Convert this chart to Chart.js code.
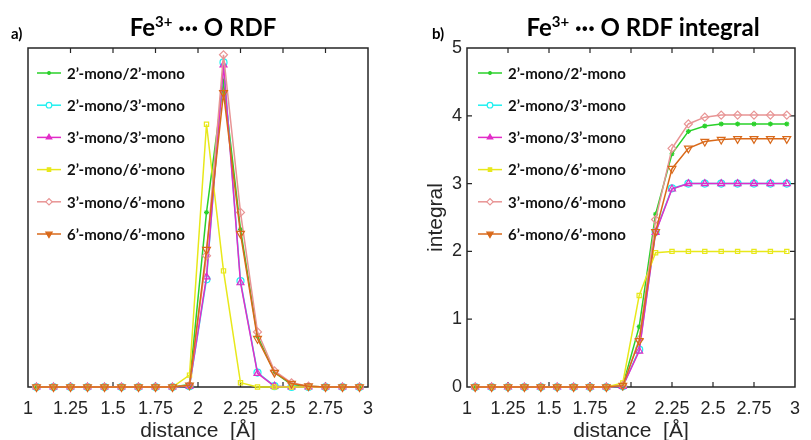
<!DOCTYPE html>
<html>
<head>
<meta charset="utf-8">
<script src="https://cdn.jsdelivr.net/npm/chart.js@4/dist/chart.umd.min.js"></script>
<style>
html, body { margin: 0; padding: 0; background: #fff; }
#wrap { position: relative; width: 811px; height: 440px; overflow: hidden; }
canvas { position: absolute; top: 0; }
#rdf { left: 0; }
#integ { left: 405px; }
</style>
</head>
<body>
<div id="wrap">
  <canvas id="rdf" width="405" height="450"></canvas>
  <canvas id="integ" width="406" height="450"></canvas>
</div>
<script>
// distances (bin centres, Å)
const distance = [1.05, 1.15, 1.25, 1.35, 1.45, 1.55, 1.65, 1.75, 1.85, 1.95,
                  2.05, 2.15, 2.25, 2.35, 2.45, 2.55, 2.65, 2.75, 2.85, 2.95];
const xTicks = [1, 1.25, 1.5, 1.75, 2, 2.25, 2.5, 2.75, 3];
const yTicksInt = [0, 1, 2, 3, 4, 5];

const seriesNames = ['2’-mono/2’-mono', '2’-mono/3’-mono', '3’-mono/3’-mono',
                     '2’-mono/6’-mono', '3’-mono/6’-mono', '6’-mono/6’-mono'];

// RDF g(r) (arbitrary units)
const rdf22 = [0, 0, 0, 0, 0, 0, 0, 0, 0, 0.3, 20.6, 36.0, 18.6, 6.0, 1.7, 0.3, 0.1, 0, 0, 0];
const rdf23 = [0, 0, 0, 0, 0, 0, 0, 0, 0, 0.1, 12.7, 38.3, 12.5, 1.7, 0.1, 0, 0, 0, 0, 0];
const rdf33 = [0, 0, 0, 0, 0, 0, 0, 0, 0, 0.1, 13.0, 38.0, 12.3, 1.6, 0.1, 0, 0, 0, 0, 0];
const rdf26 = [0, 0, 0, 0, 0, 0, 0, 0, 0, 1.4, 31.0, 13.7, 0.5, 0, 0, 0, 0, 0, 0, 0];
const rdf36 = [0, 0, 0, 0, 0, 0, 0, 0, 0, 0.2, 15.5, 39.2, 20.6, 6.5, 1.9, 0.5, 0.1, 0, 0, 0];
const rdf66 = [0, 0, 0, 0, 0, 0, 0, 0, 0, 0.2, 16.2, 34.7, 18.1, 5.7, 1.7, 0.4, 0.1, 0, 0, 0];

// RDF integral
const int22 = [0, 0, 0, 0, 0, 0, 0, 0, 0, 0.02, 0.89, 2.55, 3.44, 3.77, 3.85, 3.88, 3.88, 3.88, 3.88, 3.88];
const int23 = [0, 0, 0, 0, 0, 0, 0, 0, 0, 0.01, 0.55, 2.29, 2.93, 3.00, 3.00, 3.00, 3.00, 3.00, 3.00, 3.00];
const int33 = [0, 0, 0, 0, 0, 0, 0, 0, 0, 0.01, 0.53, 2.28, 2.92, 3.00, 3.00, 3.00, 3.00, 3.00, 3.00, 3.00];
const int26 = [0, 0, 0, 0, 0, 0, 0, 0, 0, 0.06, 1.35, 1.98, 2.00, 2.00, 2.00, 2.00, 2.00, 2.00, 2.00, 2.00];
const int36 = [0, 0, 0, 0, 0, 0, 0, 0, 0, 0.02, 0.70, 2.47, 3.52, 3.88, 3.98, 4.01, 4.01, 4.01, 4.01, 4.01];
const int66 = [0, 0, 0, 0, 0, 0, 0, 0, 0, 0.02, 0.68, 2.29, 3.22, 3.52, 3.62, 3.65, 3.66, 3.66, 3.66, 3.66];

const colors = ['#2ad12a', '#1ff0f0', '#e22cc8', '#e8e81a', '#e89494', '#d9691a'];
const markers = [
  {style: 'star', r: 2.5, rot: 0, fill: true},
  {style: 'circle', r: 3.5, rot: 0, fill: false},
  {style: 'triangle', r: 4, rot: 0, fill: true},
  {style: 'rect', r: 3, rot: 0, fill: true},
  {style: 'rectRot', r: 4, rot: 0, fill: false},
  {style: 'triangle', r: 4.5, rot: 180, fill: true}
];

const AX = '#262626';
const tickFont = {family: '"Liberation Sans", Arial, sans-serif', size: 18};
const labelFont = {family: '"Liberation Sans", Arial, sans-serif', size: 21};

function makeSets(lists) {
  return lists.map((vals, i) => ({
    label: seriesNames[i],
    data: distance.map((d, j) => ({x: d, y: vals[j]})),
    borderColor: colors[i],
    backgroundColor: colors[i],
    pointBorderColor: colors[i],
    pointBackgroundColor: 'rgba(0,0,0,0)',
    pointStyle: markers[i].style,
    pointRadius: markers[i].r,
    pointRotation: markers[i].rot,
    pointBorderWidth: 1.2,
    borderWidth: 1.5,
    tension: 0,
    clip: false,
    order: 5 - i
  }));
}

// box with inward ticks, MATLAB style
const boxPlugin = {
  id: 'box',
  beforeDatasetsDraw(chart, args, opts) {
    const {ctx, chartArea: a, scales} = chart;
    ctx.save();
    ctx.strokeStyle = AX;
    ctx.lineWidth = 1.5;
    ctx.strokeRect(a.left, a.top, a.right - a.left, a.bottom - a.top);
    ctx.lineWidth = 1.2;
    ctx.beginPath();
    xTicks.forEach(v => {
      const px = scales.x.getPixelForValue(v);
      if (px < a.left + 2 || px > a.right - 2) return;
      ctx.moveTo(px, a.bottom); ctx.lineTo(px, a.bottom - 5);
      ctx.moveTo(px, a.top); ctx.lineTo(px, a.top + 5);
    });
    if (opts.yTicks) {
      opts.yTicks.forEach(v => {
        const py = scales.y.getPixelForValue(v);
        if (py < a.top + 2 || py > a.bottom - 2) return;
        ctx.moveTo(a.left, py); ctx.lineTo(a.left + 5, py);
        ctx.moveTo(a.right, py); ctx.lineTo(a.right - 5, py);
      });
    }
    ctx.stroke();
    ctx.restore();
  },
  afterDraw(chart, args, opts) {
    const {ctx, chartArea: a} = chart;
    ctx.save();
    // legend
    ctx.textBaseline = 'middle';
    const sets = chart.data.datasets;
    sets.forEach((ds, i) => {
      const y = 73 + i * 32.2;
      const x0 = a.left + opts.legX;
      ctx.strokeStyle = ds.borderColor;
      ctx.lineWidth = 1.5;
      ctx.beginPath(); ctx.moveTo(x0, y); ctx.lineTo(x0 + 24, y); ctx.stroke();
      ctx.lineWidth = 1.2;
      ctx.fillStyle = markers[i].fill ? ds.borderColor : '#fff';
      Chart.helpers.drawPoint(ctx, {
        pointStyle: ds.pointStyle, radius: ds.pointRadius * 0.8,
        rotation: ds.pointRotation, borderWidth: 1.2
      }, x0 + 12, y);
      ctx.font = 'bold 15px Lato, sans-serif';
      ctx.fillStyle = '#111';
      ctx.fillText(ds.label, x0 + 30, y + 1);
    });
    // title with superscript
    const big = 'bold 24px Lato, sans-serif', sup = 'bold 15px Lato, sans-serif';
    const parts = [['Fe', big, 0], ['3+', sup, -9], [' \u00B7\u00B7\u00B7 ', big, 0], ['O ' + opts.title, big, 0]];
    let w = 0;
    parts.forEach(p => { ctx.font = p[1]; w += ctx.measureText(p[0]).width; });
    let x = opts.titleX - w / 2;
    ctx.fillStyle = '#000';
    ctx.textBaseline = 'alphabetic';
    parts.forEach(p => { ctx.font = p[1]; ctx.fillText(p[0], x, 36 + p[2]); x += ctx.measureText(p[0]).width; });
    // panel letter
    ctx.font = 'bold 15px Lato, sans-serif';
    ctx.fillText(opts.letter, opts.letterX, 39);
    ctx.restore();
  }
};

function xScale() {
  return {
    type: 'linear', min: 1, max: 3,
    afterBuildTicks: s => { s.ticks = xTicks.map(v => ({value: v})); },
    afterFit: s => { s.height = 63; },
    grid: {display: false, drawTicks: false},
    border: {display: false},
    ticks: {font: tickFont, color: AX, padding: 11, maxRotation: 0, autoSkip: false,
            callback: v => String(v)},
    title: {display: true, text: 'distance  [Å]', font: labelFont, color: AX,
            padding: {top: 0, bottom: 6}}
  };
}

new Chart(document.getElementById('rdf'), {
  type: 'line',
  data: {datasets: makeSets([rdf22, rdf23, rdf33, rdf26, rdf36, rdf66])},
  options: {
    responsive: false, animation: false,
    layout: {padding: {left: 28, right: 37, top: 48, bottom: 0}},
    plugins: {legend: {display: false}, tooltip: {enabled: false},
              box: {legX: 9, title: 'RDF', titleX: 203, letter: 'a)', letterX: 11}},
    scales: {
      x: xScale(),
      y: {min: 0, max: 40, afterFit: s => { s.width = 0; },
          grid: {display: false, drawTicks: false}, border: {display: false},
          ticks: {display: false}}
    }
  },
  plugins: [boxPlugin]
});

new Chart(document.getElementById('integ'), {
  type: 'line',
  data: {datasets: makeSets([int22, int23, int33, int26, int36, int66])},
  options: {
    responsive: false, animation: false,
    layout: {padding: {left: 0, right: 4, top: 48, bottom: 0}},
    plugins: {legend: {display: false}, tooltip: {enabled: false},
              box: {legX: 11, title: 'RDF integral', titleX: 238, letter: 'b)', letterX: 27, yTicks: yTicksInt}},
    scales: {
      x: xScale(),
      y: {min: 0, max: 5,
          afterBuildTicks: s => { s.ticks = yTicksInt.map(v => ({value: v})); },
          afterFit: s => { s.width = 62; },
          grid: {display: false, drawTicks: false}, border: {display: false},
          ticks: {font: tickFont, color: AX, padding: 5},
          title: {display: true, text: 'integral', font: labelFont, color: AX,
                  padding: {top: 19, bottom: 0}}}
    }
  },
  plugins: [boxPlugin]
});
</script>
</body>
</html>
